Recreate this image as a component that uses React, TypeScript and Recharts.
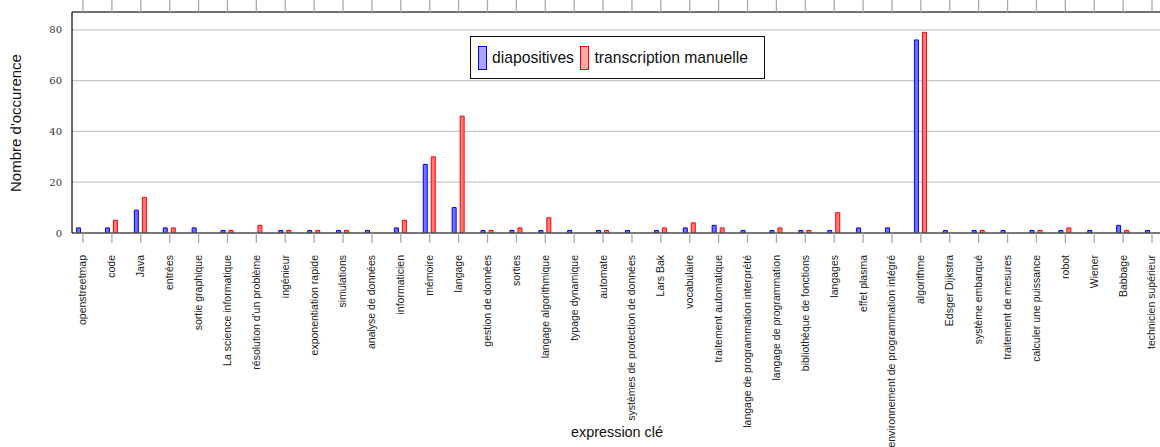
import React from 'react';
import { BarChart, Bar, XAxis, YAxis, CartesianGrid } from 'recharts';

const categories = [
  'openstreetmap', 'code', 'Java', 'entrées', 'sortie graphique', 'La science informatique',
  "résolution d'un problème", 'ingénieur', 'exponentiation rapide', 'simulations',
  'analyse de données', 'informaticien', 'mémoire', 'langage', 'gestion de données', 'sorties',
  'langage algorithmique', 'typage dynamique', 'automate', 'systèmes de protection de données',
  'Lars Bak', 'vocabulaire', 'traitement automatique', 'langage de programmation interprété',
  'langage de programmation', 'bibliothèque de fonctions', 'langages', 'effet plasma',
  'environnement de programmation intégré', 'algorithme', 'Edsger Dijkstra', 'système embarqué',
  'traitement de mesures', 'calculer une puissance', 'robot', 'Wiener', 'Babbage',
  'technicien supérieur',
];

const diapositives = [2, 2, 9, 2, 2, 1, 0, 1, 1, 1, 1, 2, 27, 10, 1, 1, 1, 1, 1, 1, 1, 2, 3, 1, 1, 1, 1, 2, 2, 76, 1, 1, 1, 1, 1, 1, 3, 1];
const transcription = [0, 5, 14, 2, 0, 1, 3, 1, 1, 1, 0, 5, 30, 46, 1, 2, 6, 0, 1, 0, 2, 4, 2, 0, 2, 1, 8, 0, 0, 79, 0, 1, 0, 1, 2, 0, 1, 0];

const yTicks = [0, 20, 40, 60, 80];
const seriesNames = ['diapositives', 'transcription manuelle'];

const data = categories.map((c, i) => ({
  i,
  name: c,
  diapositives: diapositives[i],
  transcription: transcription[i],
}));

const xTicks = categories.map((_, i) => i);
const xDomain = [-0.381, categories.length - 1 + 0.381];

const SANS = '"Liberation Sans", Arial, Helvetica, sans-serif';

const BottomTick = (props: any) => {
  const { x, payload } = props;
  const label = categories[payload.value] ?? '';
  return (
    <g>
      <text
        transform={`translate(${x},255) rotate(-90)`}
        textAnchor="end"
        dy="0.33em"
        fontSize={10.5}
        fontFamily={SANS}
        fill="#222"
      >
        {label}
      </text>
    </g>
  );
};

const EmptyTick = () => <g />;

const LegendBox = () => (
  <div
    style={{
      position: 'absolute',
      left: 470,
      top: 36,
      boxSizing: 'border-box',
      width: 295,
      height: 43,
      border: '1px solid #111',
      background: '#fff',
      display: 'flex',
      alignItems: 'center',
      paddingLeft: 7,
      fontFamily: SANS,
      fontSize: 15.7,
      color: '#111',
    }}
  >
    <div style={{ boxSizing: 'border-box', width: 9, height: 24, border: '1px solid #0000ff', background: '#a8a8ff' }} />
    <span style={{ marginLeft: 5, whiteSpace: 'nowrap' }}>{seriesNames[0]}</span>
    <div style={{ boxSizing: 'border-box', width: 9, height: 24, border: '1px solid #ff0000', background: '#ffa8a8', marginLeft: 6.5 }} />
    <span style={{ marginLeft: 5, whiteSpace: 'nowrap' }}>{seriesNames[1]}</span>
  </div>
);

export default function App() {
  return (
    <div style={{ position: 'fixed', left: 0, top: 0, width: 1160, height: 447, overflow: 'hidden', background: '#fff' }}>
      <BarChart
        width={1175}
        height={447}
        data={data}
        margin={{ top: 11, right: 12, bottom: 0, left: 0 }}
        barGap={4}
        barSize={4}
      >
        <CartesianGrid xAxisId="bottom" vertical={false} stroke="#c8c8c8" strokeWidth={1.2} />
        <XAxis
          xAxisId="top"
          orientation="top"
          type="number"
          dataKey="i"
          domain={xDomain}
          ticks={xTicks}
          interval={0}
          allowDataOverflow
          height={1}
          tickSize={12}
          tick={EmptyTick}
          tickLine={{ stroke: '#aaa', strokeWidth: 1.3 }}
          axisLine={{ stroke: '#000', strokeWidth: 1.2 }}
        />
        <XAxis
          xAxisId="bottom"
          orientation="bottom"
          type="number"
          dataKey="i"
          domain={xDomain}
          ticks={xTicks}
          interval={0}
          allowDataOverflow
          height={214}
          tickSize={10}
          tick={BottomTick}
          tickLine={{ stroke: '#aaa', strokeWidth: 1.3 }}
          axisLine={{ stroke: '#555', strokeWidth: 1.5 }}
          label={{
            content: () => (
              <text x={617} y={437} textAnchor="middle" fontSize={14.4} fontFamily={SANS} fill="#111">
                expression clé
              </text>
            ),
          }}
        />
        <YAxis
          type="number"
          domain={[0, 87]}
          ticks={yTicks}
          allowDataOverflow
          width={72}
          tickSize={0}
          tickMargin={10}
          tickLine={false}
          tick={{ fontSize: 10, fontFamily: '"DejaVu Serif", serif', fill: '#333' }}
          axisLine={{ stroke: '#000', strokeWidth: 1.2 }}
          label={{
            content: () => (
              <text
                transform="translate(20.5,123) rotate(-90)"
                textAnchor="middle"
                fontSize={15}
                fontFamily={SANS}
                fill="#111"
              >
                Nombre d'occurence
              </text>
            ),
          }}
        />
        <Bar
          xAxisId="bottom"
          dataKey="diapositives"
          name={seriesNames[0]}
          fill="#7272ff"
          stroke="#0000ff"
          strokeWidth={1}
          isAnimationActive={false}
        />
        <Bar
          xAxisId="bottom"
          dataKey="transcription"
          name={seriesNames[1]}
          fill="#ff7a7a"
          stroke="#ff0000"
          strokeWidth={1}
          isAnimationActive={false}
        />
      </BarChart>
      <LegendBox />
    </div>
  );
}
